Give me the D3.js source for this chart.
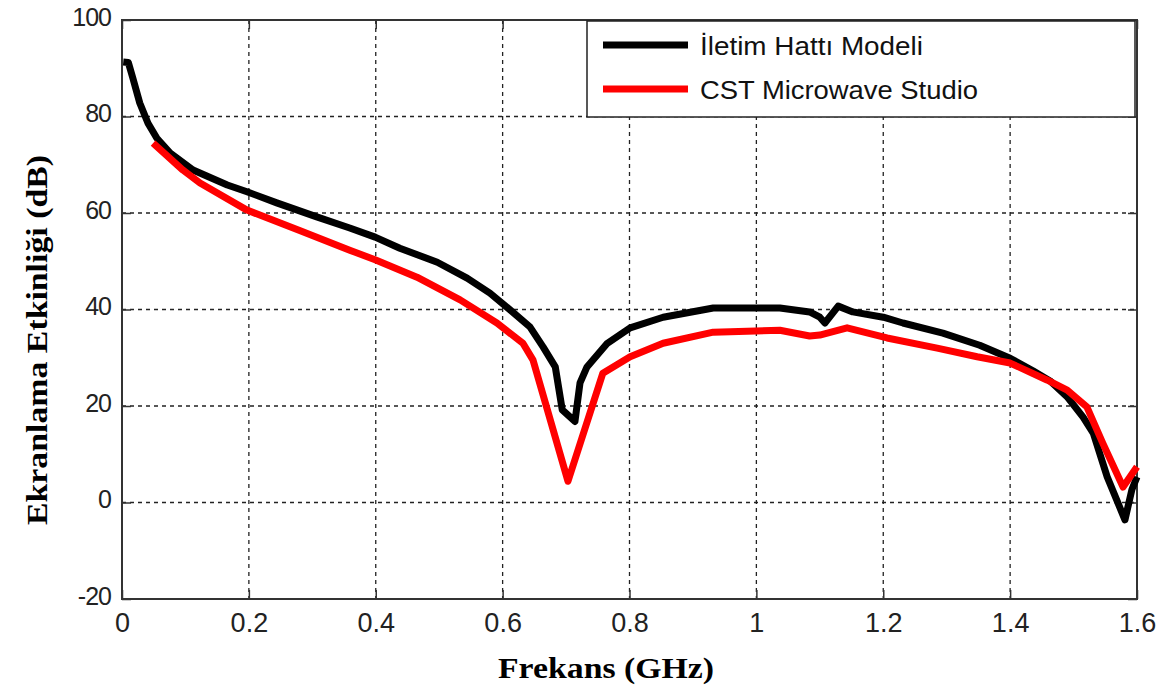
<!DOCTYPE html>
<html>
<head>
<meta charset="utf-8">
<script src="https://cdn.jsdelivr.net/npm/d3@7"></script>
<style>
  html, body { margin: 0; padding: 0; background: #fff; }
  svg { display: block; }
</style>
</head>
<body>
<svg id="chart" width="1169" height="693"></svg>
<script>
// Shielding effectiveness vs frequency: transmission-line model vs CST simulation
const seriesNames = ["İletim Hattı Modeli", "CST Microwave Studio"];
const seriesColors = ["#000000", "#ff0000"];

// [frequency (GHz), shielding effectiveness (dB)]
const lineModel = [
  [0.002, 91.3], [0.010, 91.2], [0.017, 88.0], [0.028, 82.8], [0.041, 78.6],
  [0.055, 75.5], [0.076, 72.4], [0.112, 68.9], [0.166, 65.8], [0.197, 64.4],
  [0.244, 62.1], [0.307, 59.2], [0.359, 56.9], [0.399, 55.0], [0.438, 52.7],
  [0.497, 49.8], [0.544, 46.5], [0.580, 43.4], [0.612, 39.9], [0.643, 36.4],
  [0.664, 32.2], [0.683, 28.1], [0.694, 19.2], [0.714, 16.8], [0.722, 24.8],
  [0.733, 28.1], [0.765, 33.0], [0.801, 36.2], [0.853, 38.4], [0.932, 40.3],
  [1.037, 40.3], [1.084, 39.5], [1.100, 38.4], [1.108, 37.2], [1.129, 40.7],
  [1.152, 39.5], [1.200, 38.4], [1.231, 37.2], [1.294, 35.1], [1.352, 32.6],
  [1.400, 29.9], [1.436, 27.3], [1.463, 25.2], [1.490, 21.9], [1.515, 17.7],
  [1.531, 14.4], [1.553, 5.3], [1.581, -3.6], [1.592, 2.7], [1.600, 5.3]
];
const cstData = [
  [0.049, 74.5], [0.096, 68.9], [0.123, 66.2], [0.197, 60.6], [0.281, 56.3],
  [0.359, 52.3], [0.399, 50.3], [0.465, 46.7], [0.533, 42.0], [0.591, 37.2],
  [0.632, 33.0], [0.648, 29.5], [0.703, 4.4], [0.758, 26.8], [0.801, 30.2],
  [0.853, 33.0], [0.932, 35.3], [1.037, 35.7], [1.084, 34.5], [1.100, 34.7],
  [1.143, 36.2], [1.206, 34.1], [1.285, 32.0], [1.348, 30.2], [1.400, 28.9],
  [1.458, 25.4], [1.490, 23.3], [1.521, 19.8], [1.546, 12.3], [1.578, 3.2],
  [1.600, 7.4]
];

const xTicks = [0, 0.2, 0.4, 0.6, 0.8, 1, 1.2, 1.4, 1.6];
const yTicks = [-20, 0, 20, 40, 60, 80, 100];
const xTitle = "Frekans (GHz)";
const yTitle = "Ekranlama Etkinliği (dB)";

const svg = d3.select("#chart");
const L = 122, T = 20, R = 1137, B = 599;

const x = d3.scaleLinear().domain([0, 1.6]).range([L, R]);
const y = d3.scaleLinear().domain([-20, 100]).range([B, T]);

// grid
const grid = svg.append("g").attr("stroke", "#222").attr("stroke-width", 1.3)
  .attr("stroke-dasharray", "4,4");
grid.selectAll("line.v").data(xTicks.slice(1, -1)).join("line")
  .attr("x1", d => x(d)).attr("x2", d => x(d)).attr("y1", T).attr("y2", B);
grid.selectAll("line.h").data(yTicks.slice(1, -1)).join("line")
  .attr("x1", L).attr("x2", R).attr("y1", d => y(d)).attr("y2", d => y(d));

// axes with inward ticks on all four sides
const tickLen = 9;
const plain = d => String(d);
const axisStyle = size => g => {
  g.select(".domain").remove();
  g.selectAll(".tick line").attr("stroke", "#333").attr("stroke-width", 1.5);
  g.selectAll(".tick text").attr("fill", "#222")
    .attr("font-family", "Liberation Sans, Arial, sans-serif").attr("font-size", size);
};
svg.append("g").attr("transform", `translate(0,${B})`)
  .call(d3.axisBottom(x).tickValues(xTicks).tickFormat(plain)
    .tickSizeInner(-tickLen).tickPadding(14))
  .call(axisStyle(27));
svg.append("g").attr("transform", `translate(0,${T})`)
  .call(d3.axisTop(x).tickValues(xTicks).tickSizeInner(-tickLen).tickFormat(""))
  .call(axisStyle(25));
svg.append("g").attr("transform", `translate(${L},0)`)
  .call(d3.axisLeft(y).tickValues(yTicks).tickFormat(plain)
    .tickSizeInner(-tickLen).tickPadding(11))
  .call(axisStyle(25))
  .call(g => g.selectAll(".tick text").attr("letter-spacing", -1).attr("dy", "0.2em"));
svg.append("g").attr("transform", `translate(${R},0)`)
  .call(d3.axisRight(y).tickValues(yTicks).tickSizeInner(-tickLen).tickFormat(""))
  .call(axisStyle(25));

// frame
svg.append("rect").attr("x", L).attr("y", T).attr("width", R - L).attr("height", B - T)
  .attr("fill", "none").attr("stroke", "#333").attr("stroke-width", 2);

// curves
const line = d3.line().x(d => x(d[0])).y(d => y(d[1]));
svg.append("g").selectAll("path").data([lineModel, cstData]).join("path")
  .attr("d", line).attr("fill", "none")
  .attr("stroke", (d, i) => seriesColors[i]).attr("stroke-width", 7)
  .attr("stroke-linejoin", "round");

// legend
const lg = svg.append("g");
lg.append("rect").attr("x", 587).attr("y", 21).attr("width", 548).attr("height", 96)
  .attr("fill", "#fff").attr("stroke", "#222").attr("stroke-width", 1.5);
const legendWidths = [223, 278];
seriesNames.forEach((name, i) => {
  const yy = 45 + i * 44;
  lg.append("line").attr("x1", 603).attr("x2", 688).attr("y1", yy).attr("y2", yy)
    .attr("stroke", seriesColors[i]).attr("stroke-width", 7);
  lg.append("text").attr("x", 700).attr("y", yy + 10)
    .attr("font-family", "Liberation Sans, Arial, sans-serif").attr("font-size", 25)
    .attr("fill", "#111")
    .attr("textLength", legendWidths[i]).attr("lengthAdjust", "spacingAndGlyphs")
    .text(name);
});

// axis titles
svg.append("text").attr("x", 498).attr("y", 678)
  .attr("font-family", "Liberation Serif, Times New Roman, serif")
  .attr("font-weight", "bold").attr("font-size", 30)
  .attr("textLength", 216).attr("lengthAdjust", "spacingAndGlyphs")
  .text(xTitle);
svg.append("text")
  .attr("transform", "translate(47,525) rotate(-90)")
  .attr("font-family", "Liberation Serif, Times New Roman, serif")
  .attr("font-weight", "bold").attr("font-size", 30)
  .attr("textLength", 370).attr("lengthAdjust", "spacingAndGlyphs")
  .text(yTitle);
</script>
</body>
</html>
